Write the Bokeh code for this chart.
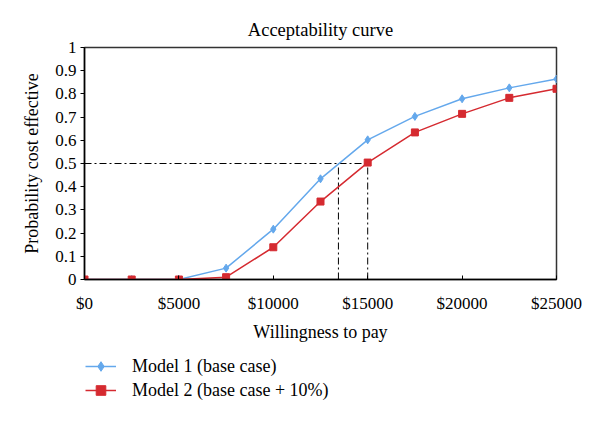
from bokeh.plotting import figure
from bokeh.layouts import column
from bokeh.models import Legend, LegendItem, Range1d, FixedTicker
from bokeh.embed import file_html
from bokeh.resources import INLINE

wtp = [0, 2500, 5000, 7500, 10000, 12500, 15000, 17500, 20000, 22500, 25000]
model1 = [0.0, 0.0, 0.0, 0.049, 0.217, 0.434, 0.602, 0.703, 0.779, 0.826, 0.864]
model2 = [0.0, 0.0, 0.0, 0.010, 0.139, 0.336, 0.504, 0.634, 0.714, 0.783, 0.822]

x_ticks = [0, 5000, 10000, 15000, 20000, 25000]
x_tick_labels = ["$0", "$5000", "$10000", "$15000", "$20000", "$25000"]
y_ticks = [0, 0.1, 0.2, 0.3, 0.4, 0.5, 0.6, 0.7, 0.8, 0.9, 1.0]
y_tick_labels = ["0", "0.1", "0.2", "0.3", "0.4", "0.5", "0.6", "0.7", "0.8", "0.9", "1"]

series_names = ["Model 1 (base case)", "Model 2 (base case + 10%)"]

threshold = 0.5
wtp_model1_at_threshold = 13450
wtp_model2_at_threshold = 15000

FONT = "Liberation Serif"
BLUE = "#64a8ec"
RED = "#d52a30"

p = figure(width=592, height=345, output_backend="svg", toolbar_location=None,
           x_range=Range1d(0, 25000), y_range=Range1d(0, 1),
           min_border_left=84, min_border_right=36, min_border_top=47, min_border_bottom=66,
           title="Acceptability curve")
p.title.align = "center"
p.title.text_font = FONT
p.title.text_font_size = "18.5px"
p.title.text_font_style = "normal"
p.title.text_color = "black"
p.title.standoff = 15

p.grid.visible = False
p.outline_line_color = "#333333"
p.outline_line_width = 1.5
p.background_fill_color = "white"
p.border_fill_color = "white"

xa = p.xaxis[0]
xa.ticker = FixedTicker(ticks=x_ticks)
xa.major_label_overrides = {t: l for t, l in zip(x_ticks, x_tick_labels)}
xa.axis_label = "Willingness to pay"
xa.minor_tick_line_color = None
xa.major_tick_in = 4
xa.major_tick_out = 0
xa.axis_line_color = "black"
xa.axis_line_width = 1.5

ya = p.yaxis[0]
ya.ticker = FixedTicker(ticks=y_ticks)
ya.major_label_overrides = {t: l for t, l in zip(y_ticks, y_tick_labels)}
ya.axis_label = "Probability cost effective"
ya.minor_tick_line_color = None
ya.major_tick_in = 0
ya.major_tick_out = 4
ya.axis_line_color = "black"
ya.axis_line_width = 1.5
ya.major_label_standoff = 4

for ax in (xa, ya):
    ax.major_label_text_font = FONT
    ax.major_label_text_font_size = "17px"
    ax.major_label_text_color = "black"
    ax.axis_label_text_font = FONT
    ax.axis_label_text_font_size = "18px"
    ax.axis_label_text_font_style = "normal"
    ax.axis_label_text_color = "black"
    ax.major_tick_line_color = "black"
xa.axis_label_standoff = 6
xa.major_label_standoff = 14
ya.axis_label_standoff = 10

# reference lines
for xs, ys in (([0, wtp_model2_at_threshold], [threshold, threshold]),
               ([wtp_model1_at_threshold] * 2, [0, threshold]),
               ([wtp_model2_at_threshold] * 2, [0, threshold])):
    p.line(xs, ys, line_color="black", line_width=1, line_dash="7 3 2 3")

p.line(wtp, model1, line_color=BLUE, line_width=1.5)
p.scatter(wtp, model1, marker="diamond", size=8, fill_color=BLUE, line_color=BLUE)
p.line(wtp, model2, line_color=RED, line_width=1.5)
p.scatter(wtp, model2, marker="square", size=7, fill_color=RED, line_color=RED)

# legend panel below the chart (its renderers sit outside the visible range)
pl = figure(width=592, height=69, output_backend="svg", toolbar_location=None,
            x_range=Range1d(0, 1), y_range=Range1d(0, 1),
            x_axis_location=None, y_axis_location=None,
            min_border_left=84, min_border_right=36, min_border_top=0, min_border_bottom=0)
pl.grid.visible = False
pl.outline_line_color = None
pl.border_fill_color = "white"
off = [-10, -9]
g1l = pl.line(off, off, line_color=BLUE, line_width=1.5)
g1s = pl.scatter(off, off, marker="diamond", size=8, fill_color=BLUE, line_color=BLUE)
g2l = pl.line(off, off, line_color=RED, line_width=1.5)
g2s = pl.scatter(off, off, marker="square", size=7, fill_color=RED, line_color=RED)

legend = Legend(items=[LegendItem(label=series_names[0], renderers=[g1l, g1s]),
                       LegendItem(label=series_names[1], renderers=[g2l, g2s])],
                location=(1, 12), orientation="vertical",
                padding=0, margin=0, spacing=0,
                border_line_color=None, background_fill_alpha=0,
                glyph_width=31, glyph_height=24, label_height=24, label_standoff=16,
                label_text_font=FONT, label_text_font_size="18px", label_text_color="black")
pl.add_layout(legend, "center")

layout = column(p, pl, spacing=0)
open("out.html", "w").write(file_html(layout, INLINE))
